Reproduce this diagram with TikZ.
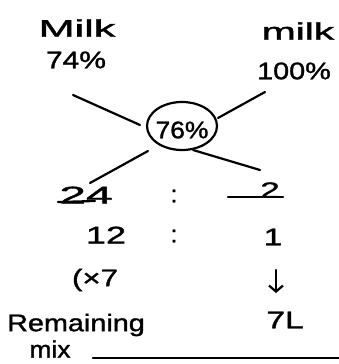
\documentclass[tikz,border=0pt]{standalone}
\usepackage{fontspec}
\setmainfont{Liberation Sans}[FakeBold=1.2]
\usetikzlibrary{shapes.geometric,arrows.meta}
\newcommand{\hs}[2]{\scalebox{#1}[1]{#2}}
\begin{document}
\begin{tikzpicture}[x=1pt,y=-1pt,
  txt/.style={font=\fontsize{24}{26}\selectfont, inner sep=0pt},
  ln/.style={line width=2.2pt, line cap=round}]
\useasboundingbox[fill=white] (0,0) rectangle (339,364);
\node[txt] (m1) at (77,28) {\hs{1.8}{Milk}};
\node[txt] (p1) at (76,60) {\hs{1.25}{74\%}};
\node[txt] (m2) at (298,31) {\hs{1.7}{milk}};
\node[txt] (p2) at (294,71) {\hs{1.2}{100\%}};
\node[ellipse, draw, line width=2.2pt, minimum width=70pt, minimum height=48pt, inner sep=0pt] (c) at (182,126) {};
\node[txt] (cv) at (182,130) {\hs{1.1}{76\%}};
\coordinate (a1) at (73,95);  \coordinate (b1) at (140,125);
\coordinate (a2) at (265,92); \coordinate (b2) at (218,118);
\coordinate (a3) at (90,183); \coordinate (b3) at (148,151);
\coordinate (a4) at (260,170);\coordinate (b4) at (193,150);
\draw[ln] (a1) -- (b1);
\draw[ln] (a2) -- (b2);
\draw[ln] (a3) -- (b3);
\draw[ln] (a4) -- (b4);
\node[txt] (r1) at (86,195) {\hs{2}{24}};
\node[txt] (k1) at (174,196) {:};
\node[txt, font=\fontsize{22}{24}\selectfont] (r2) at (270,190) {\hs{1.6}{2}};
\coordinate (s1) at (58,202); \coordinate (s2) at (95,201);
\coordinate (s3) at (228,197); \coordinate (s4) at (283,197);
\draw[ln] (s1) -- (s2);
\draw[ln] (s3) -- (s4);
\node[txt] (q1) at (106,235) {\hs{1.5}{12}};
\node[txt] (k2) at (174,236) {:};
\node[txt] (q2) at (273,237) {\hs{1.4}{1}};
\node[txt] (x7) at (95,280) {\hs{1.3}{(×7}};
\coordinate (d1) at (276,270); \coordinate (d2) at (276,293);
\draw[ln,-{Straight Barb[length=6pt,width=14pt]}] (d1) -- (d2);
\node[txt] (rem) at (76,325) {\hs{1.2}{Remaining}};
\node[txt] (mix) at (50,349) {\hs{1.1}{mix}};
\node[txt] (sl) at (285,320) {\hs{1.4}{7L}};
\coordinate (u1) at (93,358); \coordinate (u2) at (339,358);
\draw[ln] (u1) -- (u2);
\end{tikzpicture}
\end{document}
